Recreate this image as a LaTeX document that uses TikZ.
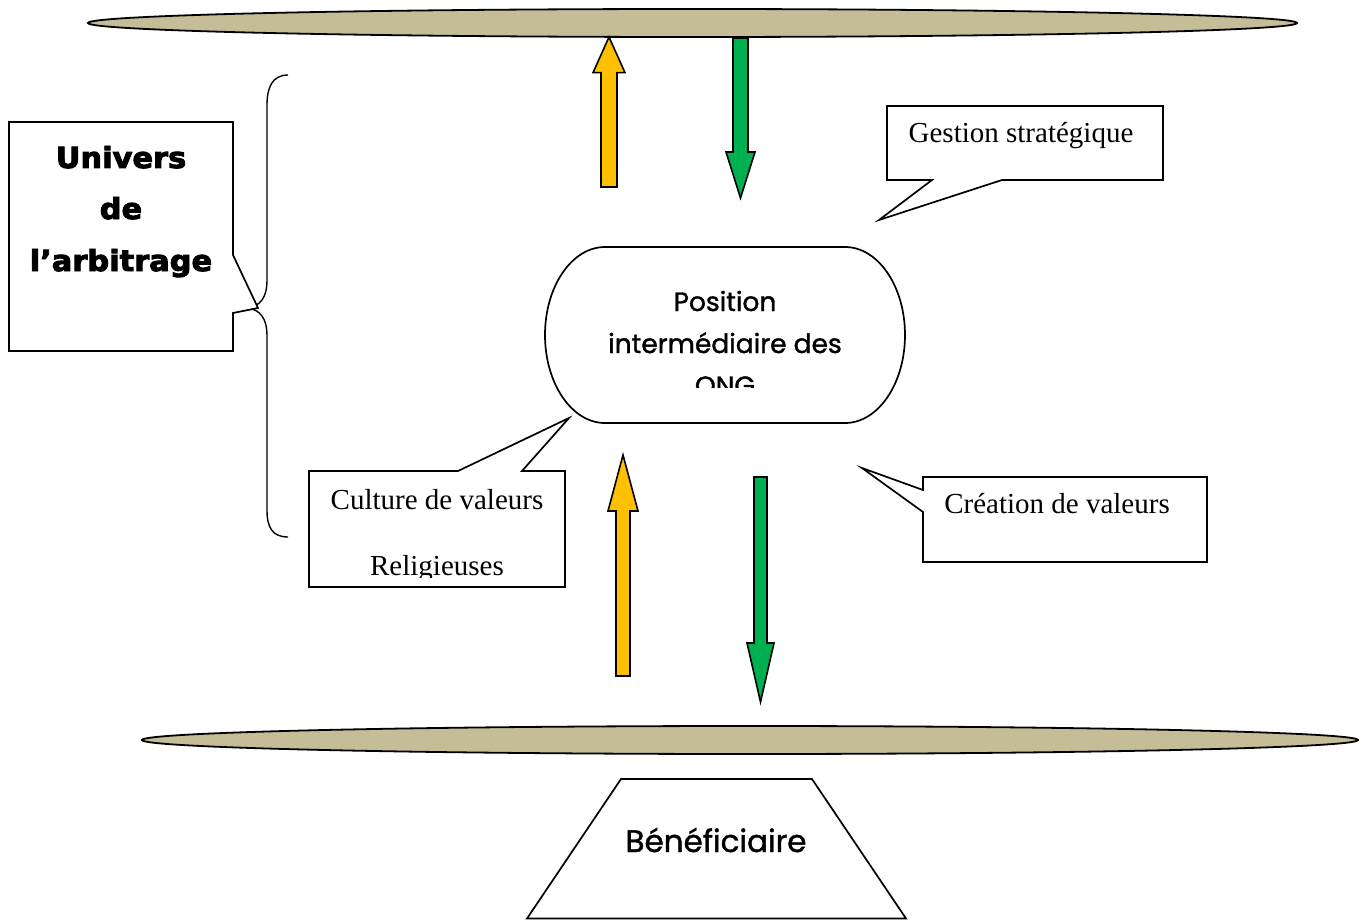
\documentclass[tikz,border=0pt]{standalone}
\usepackage{fontspec}
\setmainfont{Liberation Serif}
\newfontfamily\gothic{Poppins}[FakeBold=1.3]
\newfontfamily\heavy{DejaVu Sans}[BoldFeatures={FakeBold=3.2, FakeStretch=1.05}]
\definecolor{beige}{HTML}{C4BD97}
\definecolor{arryellow}{HTML}{FFC000}
\definecolor{arrgreen}{HTML}{00B050}
\begin{document}
\begin{tikzpicture}[x=1pt,y=-1pt]
\tikzset{
  outl/.style={draw=black, line width=1.7pt, line join=miter},
  bar/.style={draw=black, line width=1.8pt, fill=beige},
  yarr/.style={draw=black, line width=1.6pt, fill=arryellow, line join=miter},
  garr/.style={draw=black, line width=1.6pt, fill=arrgreen, line join=miter},
  serif/.style={font=\fontsize{29}{33}\selectfont, inner sep=0pt, anchor=base},
  goth/.style={font=\gothic\fontsize{26.5}{30}\selectfont, inner sep=0pt, anchor=base},
  blk/.style={font=\heavy\bfseries\fontsize{29}{33}\selectfont, inner sep=0pt, anchor=base},
}
\useasboundingbox (0,0) rectangle (1370,920);
\fill[white] (0,0) rectangle (1370,920);
% bars
\draw[bar] (692.5,23) ellipse [x radius=604.5pt, y radius=14pt];
\draw[bar] (750,740) ellipse [x radius=608pt, y radius=14pt];
% top arrows
\draw[yarr] (601,187) -- (601,72.7) -- (593,72.7) -- (609,37) -- (625,72.7) -- (617,72.7) -- (617,187) -- cycle;
\draw[garr] (733,38) -- (733,152) -- (726,152) -- (740.5,198) -- (755,152) -- (748,152) -- (748,38) -- cycle;
% bottom arrows
\draw[yarr] (616,676) -- (616,511) -- (608,511) -- (623,455) -- (638,511) -- (630,511) -- (630,676) -- cycle;
\draw[garr] (754,477) -- (754,643) -- (747,643) -- (760.5,702) -- (774,643) -- (767,643) -- (767,477) -- cycle;
% central shape
\draw[outl] (605,247) -- (845,247) arc[start angle=90, end angle=-90, x radius=60pt, y radius=88pt]
  -- (605,423) arc[start angle=270, end angle=90, x radius=60pt, y radius=88pt] -- cycle;
\begin{scope}
  \clip (550,260) rectangle (900,387);
  \node[goth] (pos1) at (725,311) {Position};
  \node[goth] (pos2) at (725,353) {intermédiaire des};
  \node[goth] (pos3) at (725,395) {ONG};
\end{scope}
% brace
\draw[line width=1.4pt] (288,75) .. controls (272,75) and (267,88) .. (267,105) -- (267,280)
  .. controls (267,298) and (260,306) .. (248,308)
  .. controls (260,310) and (267,318) .. (267,336) -- (267,510)
  .. controls (267,527) and (272,537) .. (288,537);
% Univers callout
\draw[outl, fill=white] (9,122) -- (233,122) -- (233,255) -- (258,308) -- (233,313) -- (233,351) -- (9,351) -- cycle;
\node[blk] (univ1) at (121,168) {Univers};
\node[blk] (univ2) at (121,219) {de};
\node[blk] (univ3) at (121,271) {l’arbitrage};
% Culture callout
\draw[outl] (309,471) -- (458,471) -- (569,418) -- (522,471) -- (565,471) -- (565,587) -- (309,587) -- cycle;
\begin{scope}
  \clip (310,472) rectangle (564,577);
  \node[serif] (cult) at (437,509) {Culture de valeurs};
  \node[serif] (relig) at (437,575) {Religieuses};
\end{scope}
% Gestion callout
\draw[outl] (887,106) -- (1163,106) -- (1163,180) -- (1002,180) -- (879,220) -- (932,180) -- (887,180) -- cycle;
\node[serif] (gest) at (1021,143) {Gestion stratégique};
% Creation callout
\draw[outl] (923,477) -- (1207,477) -- (1207,562) -- (923,562) -- (923,512) -- (862,468) -- (923,490) -- cycle;
\node[serif] (crea) at (1057,513) {Création de valeurs};
% Beneficiaire
\draw[outl] (621,779) -- (812,779) -- (906,918.5) -- (527,918.5) -- cycle;
\node[goth, font=\gothic\fontsize{31}{35}\selectfont] (benef) at (716,852) {Bénéficiaire};
\end{tikzpicture}
\end{document}
